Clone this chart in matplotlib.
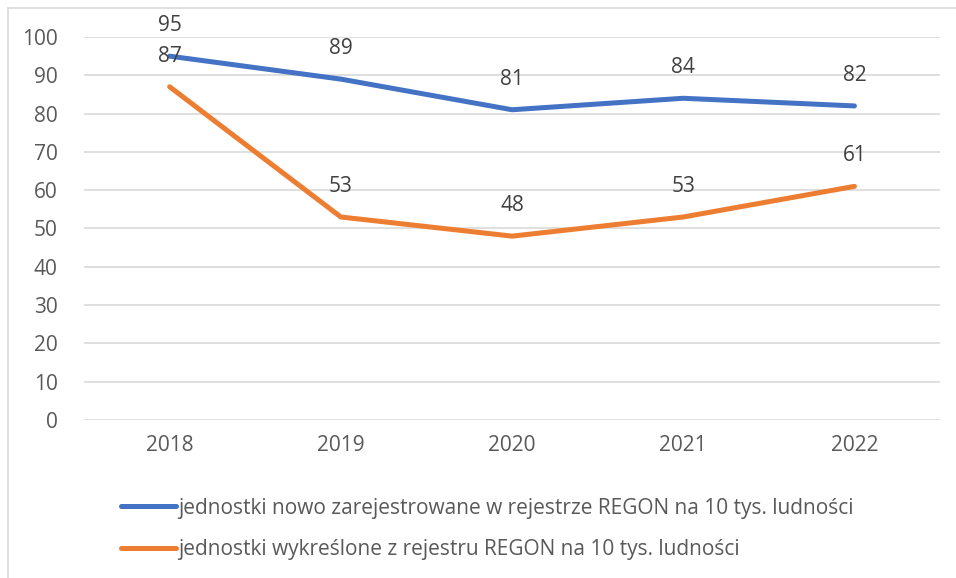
import matplotlib.pyplot as plt
from matplotlib.lines import Line2D

lata = ['2018', '2019', '2020', '2021', '2022']
nowe = [95, 89, 81, 84, 82]
wykreslone = [87, 53, 48, 53, 61]
etykieta_nowe = 'jednostki nowo zarejestrowane w rejestrze REGON na 10 tys. ludności'
etykieta_wykr = 'jednostki wykreślone z rejestru REGON na 10 tys. ludności'

plt.rcParams['font.family'] = ['Open Sans', 'DejaVu Sans']

fig = plt.figure(figsize=(9.56, 5.78), dpi=100)
ax = fig.add_axes([0.0879, 0.2734, 0.8954, 0.6626])

x = range(len(lata))
ax.plot(x, nowe, color='#4472C4', lw=3.6, solid_capstyle='round', label=etykieta_nowe)
ax.plot(x, wykreslone, color='#ED7D31', lw=3.6, solid_capstyle='round', label=etykieta_wykr)

# etykiety danych nad punktami
for seria in (nowe, wykreslone):
    for i, v in enumerate(seria):
        ax.annotate(str(v), (i, v), xytext=(0, 22), textcoords='offset points',
                    ha='center', va='center', fontsize=15, color='#404040')

ax.set_xlim(-0.5, 4.5)
ax.set_ylim(0, 100)
ax.set_xticks(list(x))
ax.set_xticklabels(lata)
ax.set_yticks(range(0, 101, 10))
ax.grid(axis='y', color='#D9D9D9', lw=1.2)
ax.set_axisbelow(True)
for s in ax.spines.values():
    s.set_visible(False)
ax.tick_params(length=0, labelsize=15, labelcolor='#595959')
ax.tick_params(axis='y', pad=19)
ax.tick_params(axis='x', pad=11)

fig.legend(loc='upper left', bbox_to_anchor=(0.127, 0.139), frameon=False,
           fontsize=15, labelcolor='#595959', handlelength=2.6, handletextpad=0.1,
           labelspacing=1.0, borderpad=0, borderaxespad=0)

# ramka wykresu
fig.add_artist(Line2D([8 / 956, 1], [1 - 8 / 578, 1 - 8 / 578], color='#D9D9D9', lw=1.2))
fig.add_artist(Line2D([8 / 956, 8 / 956], [0, 1 - 8 / 578], color='#D9D9D9', lw=1.2))

fig.savefig('out.png', dpi=100)
